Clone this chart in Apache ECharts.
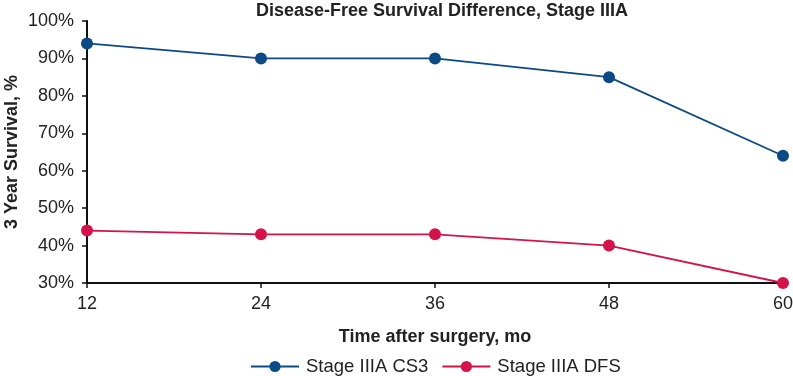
<!DOCTYPE html>
<html>
<head>
<meta charset="utf-8">
<script src="https://cdn.jsdelivr.net/npm/echarts@6/dist/echarts.min.js"></script>
<style>
  html, body { margin: 0; padding: 0; background: #fff; }
  #chart { width: 793px; height: 376px; }
</style>
</head>
<body>
<div id="chart"></div>
<script>
  const months = ['12', '24', '36', '48', '60'];
  const cs3 = [94, 90, 90, 85, 64];
  const dfs = [44, 43, 43, 40, 30];
  const seriesNames = ['Stage IIIA CS3', 'Stage IIIA DFS'];
  const colors = ['#0b4a84', '#d3134a'];

  const font = 'Liberation Sans, Arial, Helvetica, sans-serif';
  const chart = echarts.init(document.getElementById('chart'));

  chart.setOption({
    animation: false,
    textStyle: { fontFamily: font },
    title: {
      text: 'Disease-Free Survival Difference, Stage IIIA',
      left: 437, top: -3, textAlign: 'center',
      textStyle: { fontSize: 18, fontWeight: 'bold', color: '#222', fontFamily: font }
    },
    grid: { left: 87, right: 10, top: 21, bottom: 93, outerBoundsMode: 'none', containLabel: false },
    legend: {
      left: 245, top: 352,
      itemWidth: 48, itemHeight: 14, itemGap: 13,
      textStyle: { fontSize: 18.5, color: '#222', fontFamily: font, padding: [0, 0, 0, 2] },
      data: seriesNames
    },
    xAxis: {
      type: 'category',
      data: months,
      boundaryGap: false,
      name: 'Time after surgery, mo',
      nameLocation: 'middle',
      nameGap: 45,
      nameTextStyle: { fontSize: 18, fontWeight: 'bold', color: '#222' },
      axisLine: { lineStyle: { color: '#111', width: 2 } },
      axisTick: { alignWithLabel: true, length: 5, lineStyle: { color: '#111', width: 1.5 } },
      axisLabel: { fontSize: 18, color: '#222', margin: 12 },
      splitLine: { show: false }
    },
    yAxis: {
      type: 'value',
      min: 30, max: 100, interval: 10,
      name: '3 Year Survival, %',
      nameLocation: 'middle',
      nameGap: 66,
      nameMoveOverlap: false,
      nameTextStyle: { fontSize: 18, fontWeight: 'bold', color: '#222' },
      axisLine: { show: true, lineStyle: { color: '#111', width: 2 } },
      axisTick: { show: true, length: 5, lineStyle: { color: '#111', width: 1.5 } },
      axisLabel: { fontSize: 18, color: '#222', margin: 13, formatter: '{value}%' },
      splitLine: { show: false }
    },
    series: [
      {
        name: seriesNames[0], type: 'line', data: cs3,
        symbol: 'circle', symbolSize: 12,
        lineStyle: { color: colors[0], width: 1.8 },
        itemStyle: { color: colors[0] }
      },
      {
        name: seriesNames[1], type: 'line', data: dfs,
        symbol: 'circle', symbolSize: 12,
        lineStyle: { color: colors[1], width: 1.8 },
        itemStyle: { color: colors[1] }
      }
    ]
  });
</script>
</body>
</html>
